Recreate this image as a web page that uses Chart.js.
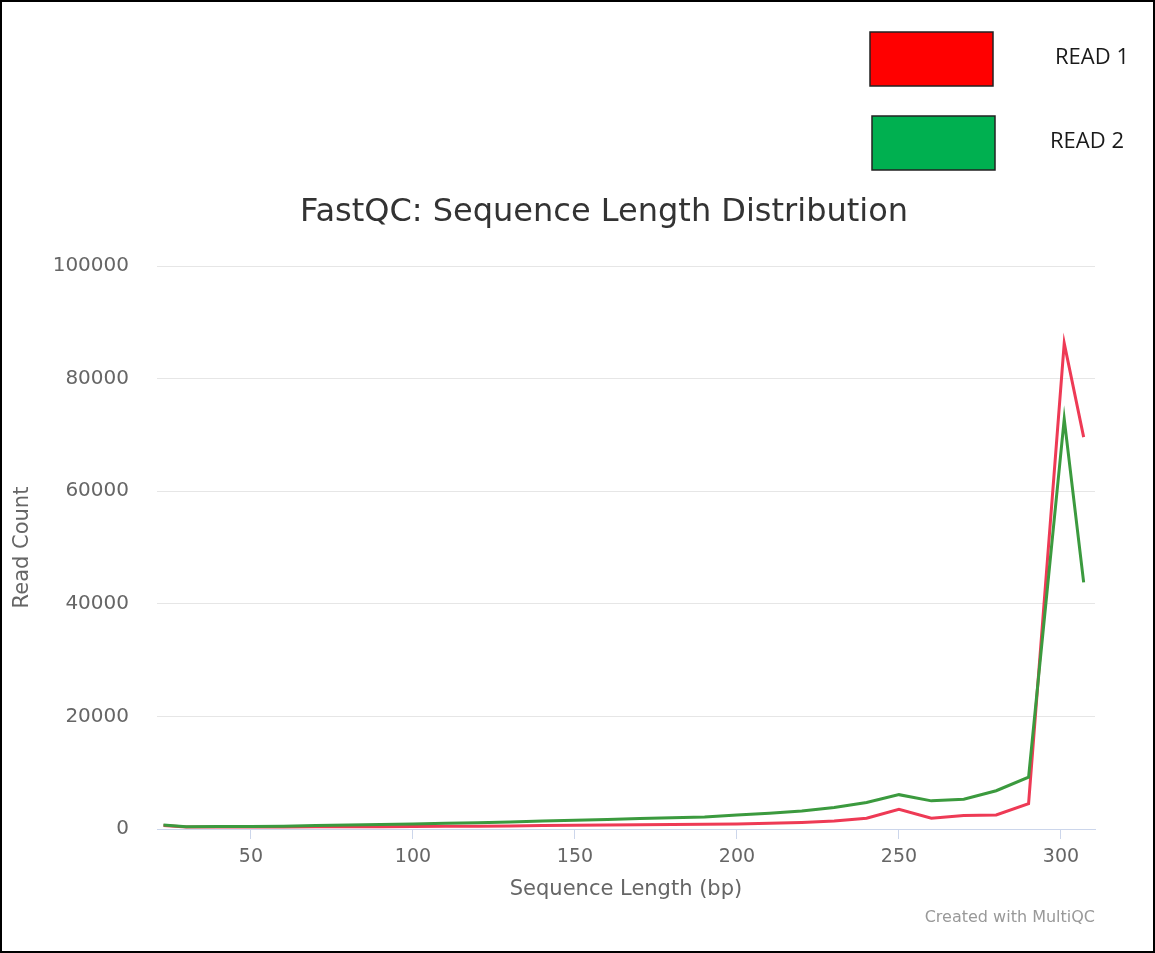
<!DOCTYPE html>
<html>
<head>
<meta charset="utf-8">
<script src="https://cdn.jsdelivr.net/npm/chart.js@4"></script>
<style>
  html, body { margin: 0; padding: 0; background: #fff; }
  #wrap { width: 1155px; height: 953px; }
</style>
</head>
<body>
<div id="wrap"><canvas id="myChart" width="1155" height="953"></canvas></div>
<script>
// sequence length (bp) of each point
const lengths = [23, 30, 40, 50, 60, 70, 80, 90, 100, 110, 120, 130, 140, 150, 160, 170, 180, 190,
  200, 210, 220, 230, 240, 250, 260, 270, 280, 290, 301, 307];
const read1 = [600, 350, 350, 350, 350, 380, 400, 420, 450, 480, 500, 550, 600, 650, 700, 750, 800, 850,
  900, 1000, 1150, 1400, 1900, 3500, 1900, 2400, 2500, 4500, 86300, 69600];
const read2 = [700, 400, 450, 450, 500, 600, 700, 800, 900, 1000, 1100, 1250, 1400, 1550, 1700, 1850, 2000, 2150,
  2500, 2800, 3200, 3800, 4700, 6100, 5000, 5300, 6800, 9200, 72800, 43800];
const xTicks = [50, 100, 150, 200, 250, 300];
const yTicks = [0, 20000, 40000, 60000, 80000, 100000];

const toPoints = vals => vals.map((v, i) => ({ x: lengths[i], y: v }));

// frame, title, legend boxes and footer
const decor = {
  id: "decor",
  afterDraw: chart => {
    const ctx = chart.ctx;
    ctx.save();
    ctx.strokeStyle = "#000";
    ctx.lineWidth = 2;
    ctx.strokeRect(1, 1, 1153, 951);

    ctx.fillStyle = "#333";
    ctx.font = "32px 'DejaVu Sans'";
    ctx.textAlign = "center";
    ctx.textBaseline = "middle";
    ctx.fillText("FastQC: Sequence Length Distribution", 604, 213);

    const boxes = [
      { x: 870, y: 32, tx: 1055, fill: "#ff0000" },
      { x: 872, y: 116, tx: 1050, fill: "#00b050" }
    ];
    chart.data.datasets.forEach((ds, i) => {
      const b = boxes[i];
      ctx.fillStyle = b.fill;
      ctx.fillRect(b.x, b.y, 123, 54);
      ctx.strokeStyle = "#222";
      ctx.lineWidth = 1.5;
      ctx.strokeRect(b.x, b.y, 123, 54);
      ctx.fillStyle = "#1a1a1a";
      ctx.font = "22px 'Open Sans'";
      ctx.textAlign = "left";
      ctx.fillText(ds.label, b.tx, b.y + 26);
    });

    ctx.fillStyle = "#999";
    ctx.font = "16px 'DejaVu Sans'";
    ctx.textAlign = "right";
    ctx.fillText("Created with MultiQC", 1095, 918);
    ctx.restore();
  }
};

const ctx = document.getElementById("myChart").getContext("2d");
new Chart(ctx, {
  type: "line",
  data: {
    datasets: [
      {
        label: "READ 1",
        data: toPoints(read1),
        borderColor: "#ee3a55",
        borderWidth: 3,
        pointRadius: 0,
        tension: 0,
        order: 1
      },
      {
        label: "READ 2",
        data: toPoints(read2),
        borderColor: "#3b9a3e",
        borderWidth: 3,
        pointRadius: 0,
        tension: 0,
        order: 0
      }
    ]
  },
  options: {
    responsive: false,
    animation: false,
    layout: { padding: { top: 266, left: 8, right: 60, bottom: 51 } },
    plugins: { legend: { display: false }, tooltip: { enabled: false } },
    scales: {
      x: {
        type: "linear",
        min: 21,
        max: 310.5,
        afterBuildTicks: s => { s.ticks = xTicks.map(v => ({ value: v })); },
        afterFit: s => { s.height = 902 - 829; },
        grid: { drawOnChartArea: false, tickLength: 10, tickColor: "#ccd6eb" },
        border: { color: "#ccd6eb", width: 1 },
        ticks: { color: "#666", font: { family: "DejaVu Sans", size: 19 }, padding: 7, maxRotation: 0 },
        title: {
          display: true,
          text: "Sequence Length (bp)",
          color: "#666",
          font: { family: "DejaVu Sans", size: 21 },
          padding: { top: 4, bottom: 0 }
        }
      },
      y: {
        min: 0,
        max: 100000,
        afterBuildTicks: s => { s.ticks = yTicks.map(v => ({ value: v })); },
        afterFit: s => { s.width = 157 - 8; },
        grid: { color: "#e6e6e6", drawTicks: false },
        border: { display: false },
        ticks: {
          color: "#666",
          font: { family: "DejaVu Sans", size: 20 },
          padding: 28,
          callback: v => String(v)
        },
        title: {
          display: true,
          text: "Read Count",
          color: "#666",
          font: { family: "DejaVu Sans", size: 21 },
          padding: { top: 2, bottom: 0 }
        }
      }
    }
  },
  plugins: [decor]
});
</script>
</body>
</html>
